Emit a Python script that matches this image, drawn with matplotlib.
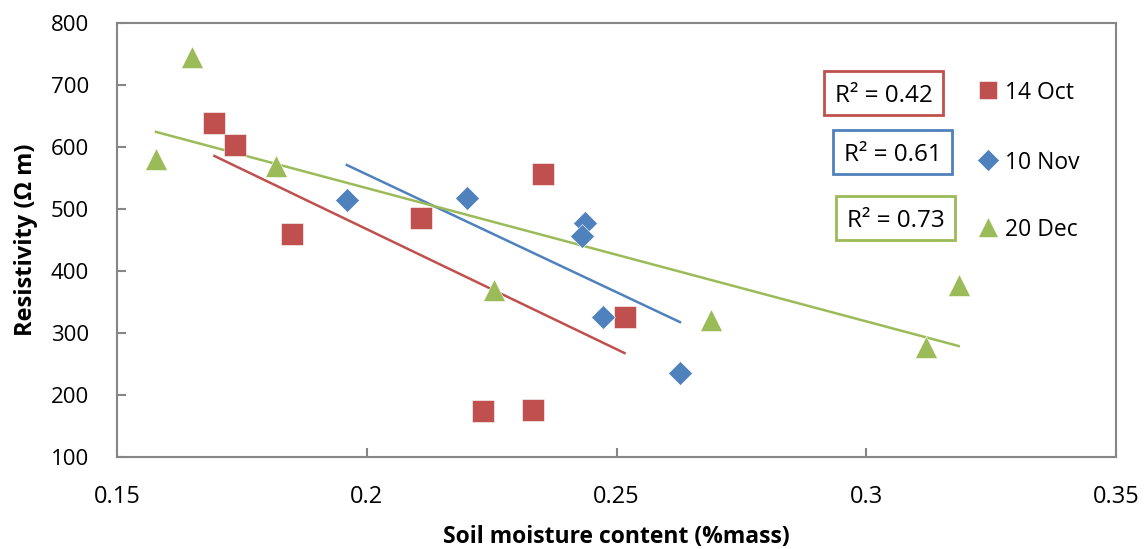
import numpy as np
import matplotlib
matplotlib.use("Agg")
import matplotlib.pyplot as plt
from matplotlib.patches import Rectangle

plt.rcParams['font.family'] = ['Open Sans', 'DejaVu Sans']

# Data
oct_x = [0.1695, 0.1737, 0.1850, 0.2108, 0.2353, 0.2233, 0.2333, 0.2516]
oct_y = [638, 603, 460, 486, 557, 174, 176, 326]
nov_x = [0.1960, 0.2201, 0.2436, 0.2430, 0.2472, 0.2627]
nov_y = [515, 517, 478, 456, 325, 236]
dec_x = [0.1651, 0.1578, 0.1819, 0.2255, 0.2689, 0.3120, 0.3185]
dec_y = [745, 580, 570, 370, 321, 278, 378]
series_labels = ["14 Oct", "10 Nov", "20 Dec"]
r2_labels = ["R² = 0.42", "R² = 0.61", "R² = 0.73"]
x_ticks = [0.15, 0.2, 0.25, 0.3, 0.35]
x_tick_labels = ["0.15", "0.2", "0.25", "0.3", "0.35"]
y_ticks = [100, 200, 300, 400, 500, 600, 700, 800]

colors = ["#C0504D", "#4F81BD", "#9BBB59"]
markers = ["s", "D", "^"]
msizes = [16, 12.5, 16]
leg_msizes = [13.5, 11, 14]

fig = plt.figure(figsize=(11.45, 5.49), dpi=100)
ax = fig.add_axes([0.1022, 0.1676, 0.8725, 0.7905])

series = [(oct_x, oct_y), (nov_x, nov_y), (dec_x, dec_y)]
for (xs, ys), c, m, ms in zip(series, colors, markers, msizes):
    xs = np.array(xs); ys = np.array(ys)
    ax.plot(xs, ys, linestyle='none', marker=m, markersize=ms, color=c,
            markeredgecolor='white', markeredgewidth=0.4, zorder=3)
    k, b = np.polyfit(xs, ys, 1)
    xx = np.array([xs.min(), xs.max()])
    ax.plot(xx, k * xx + b, color=c, linewidth=1.8, zorder=2)

ax.set_xlim(0.15, 0.35)
ax.set_ylim(100, 800)
ax.set_xticks(x_ticks)
ax.set_xticklabels(x_tick_labels)
ax.set_yticks(y_ticks)
for s in ax.spines.values():
    s.set_color('#868686')
    s.set_linewidth(1.5)
ax.tick_params(direction='in', length=6.5, width=1.5, color='#868686',
               labelcolor='black', pad=20)
ax.tick_params(axis='x', labelsize=17)
ax.tick_params(axis='y', labelsize=16)

ax.set_xlabel("Soil moisture content (%mass)", fontsize=16.5, fontweight='bold', labelpad=12)
ax.set_ylabel("Resistivity (Ω m)", fontsize=17, fontweight='bold', labelpad=9)

# R² boxes (axes fraction)
box_xy = [(0.7077, 0.7880), (0.7167, 0.6521), (0.7197, 0.5000)]
box_w, box_h = 0.1191, 0.1014
for (bx, by), t, c in zip(box_xy, r2_labels, colors):
    ax.add_patch(Rectangle((bx, by), box_w, box_h, transform=ax.transAxes,
                           facecolor='white', edgecolor=c, linewidth=2, zorder=4))
    ax.text(bx + box_w / 2, by + box_h / 2, t, transform=ax.transAxes, fontsize=17.5,
            ha='center', va='center_baseline', zorder=5)

# Legend (manual, axes fraction)
leg_y = [0.8456, 0.6843, 0.5300]
for yy, c, m, ms, lab in zip(leg_y, colors, markers, leg_msizes, series_labels):
    ax.plot([0.8719], [yy], transform=ax.transAxes, linestyle='none', marker=m,
            markersize=ms, color=c, markeredgecolor='white', markeredgewidth=0.4,
            clip_on=False, zorder=5)
    ax.text(0.8889, yy, lab, transform=ax.transAxes, fontsize=16.5,
            ha='left', va='center_baseline', zorder=5)

fig.savefig("out.png", dpi=100, facecolor='white')
